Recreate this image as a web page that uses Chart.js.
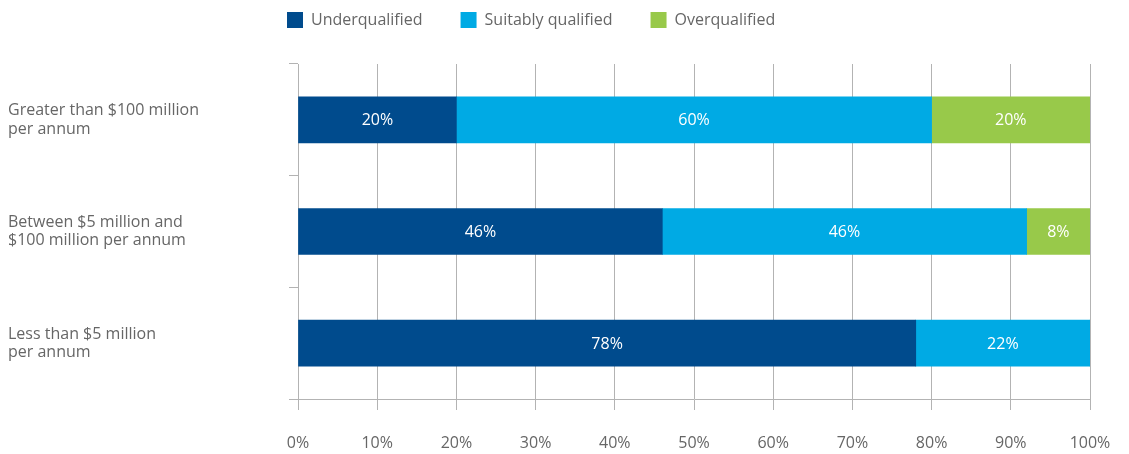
<!DOCTYPE html>
<html>
<head>
<meta charset="utf-8">
<script src="https://cdn.jsdelivr.net/npm/chart.js@4"></script>
<style>
  html, body { margin: 0; padding: 0; background: #fff; }
  #wrap { width: 1129px; height: 454px; position: relative; }
</style>
</head>
<body>
<div id="wrap"><canvas id="qualification-chart"></canvas></div>
<script>
// Data
var categories = [
  ['Greater than $100 million', 'per annum'],
  ['Between $5 million and', '$100 million per annum'],
  ['Less than $5 million', 'per annum']
];
var underqualified = [20, 46, 78];
var suitablyQualified = [60, 46, 22];
var overqualified = [20, 8, 0];
var xTicks = [0, 10, 20, 30, 40, 50, 60, 70, 80, 90, 100];

var FONT = '"Open Sans", "Noto Sans", sans-serif';
var TEXT_COLOR = '#666666';
var LINE_COLOR = '#b3b3b3';

// White percentage inside each segment
var segmentLabels = {
  id: 'segmentLabels',
  afterDatasetsDraw: function(chart) {
    var ctx = chart.ctx;
    ctx.save();
    ctx.font = '16px ' + FONT;
    ctx.fillStyle = '#ffffff';
    ctx.textAlign = 'center';
    ctx.textBaseline = 'middle';
    chart.data.datasets.forEach(function(ds, i) {
      chart.getDatasetMeta(i).data.forEach(function(bar, j) {
        var v = ds.data[j];
        if (!v) return;
        var p = bar.getCenterPoint();
        ctx.fillText(v + '%', p.x, p.y + 1);
      });
    });
    ctx.restore();
  }
};

// Legend row sits above the plot, nudged right
var legendPlacement = {
  id: 'legendPlacement',
  afterLayout: function(chart) {
    chart.legend.left = 249;
    chart.legend.top = -26;
  }
};

var ctx = document.getElementById('qualification-chart').getContext('2d');
var chart = new Chart(ctx, {
  type: 'bar',
  data: {
    labels: categories,
    datasets: [{
      label: 'Underqualified',
      data: underqualified,
      backgroundColor: '#004b8d'
    }, {
      label: 'Suitably qualified',
      data: suitablyQualified,
      backgroundColor: '#00aae4'
    }, {
      label: 'Overqualified',
      data: overqualified,
      backgroundColor: '#98c94a'
    }]
  },
  options: {
    indexAxis: 'y',
    responsive: true,
    maintainAspectRatio: false,
    animation: false,
    barThickness: 46,
    layout: {
      padding: { left: 8, right: 39, top: 0, bottom: 1 }
    },
    scales: {
      x: {
        stacked: true,
        min: 0,
        max: 100,
        afterBuildTicks: function(scale) {
          scale.ticks = xTicks.map(function(v) { return { value: v }; });
        },
        afterFit: function(scale) {
          scale.height = 54;
          scale.paddingLeft = 0;
          scale.paddingRight = 0;
        },
        grid: {
          color: LINE_COLOR,
          lineWidth: 1,
          tickLength: 11
        },
        border: { color: LINE_COLOR },
        ticks: {
          padding: 24,
          color: TEXT_COLOR,
          font: { family: FONT, size: 16 },
          callback: function(v) { return v + '%'; }
        }
      },
      y: {
        stacked: true,
        afterFit: function(scale) { scale.width = 290; },
        grid: {
          offset: true,
          drawOnChartArea: false,
          color: LINE_COLOR,
          tickLength: 9
        },
        border: { color: LINE_COLOR },
        ticks: {
          crossAlign: 'far',
          color: TEXT_COLOR,
          font: { family: FONT, size: 16, lineHeight: 1.15 }
        }
      }
    },
    plugins: {
      legend: {
        position: 'top',
        align: 'start',
        maxHeight: 66,
        labels: {
          boxWidth: 16,
          boxHeight: 16,
          padding: 38,
          color: TEXT_COLOR,
          font: { family: FONT, size: 16 }
        }
      },
      tooltip: { enabled: false }
    }
  },
  plugins: [segmentLabels, legendPlacement]
});
</script>
</body>
</html>
